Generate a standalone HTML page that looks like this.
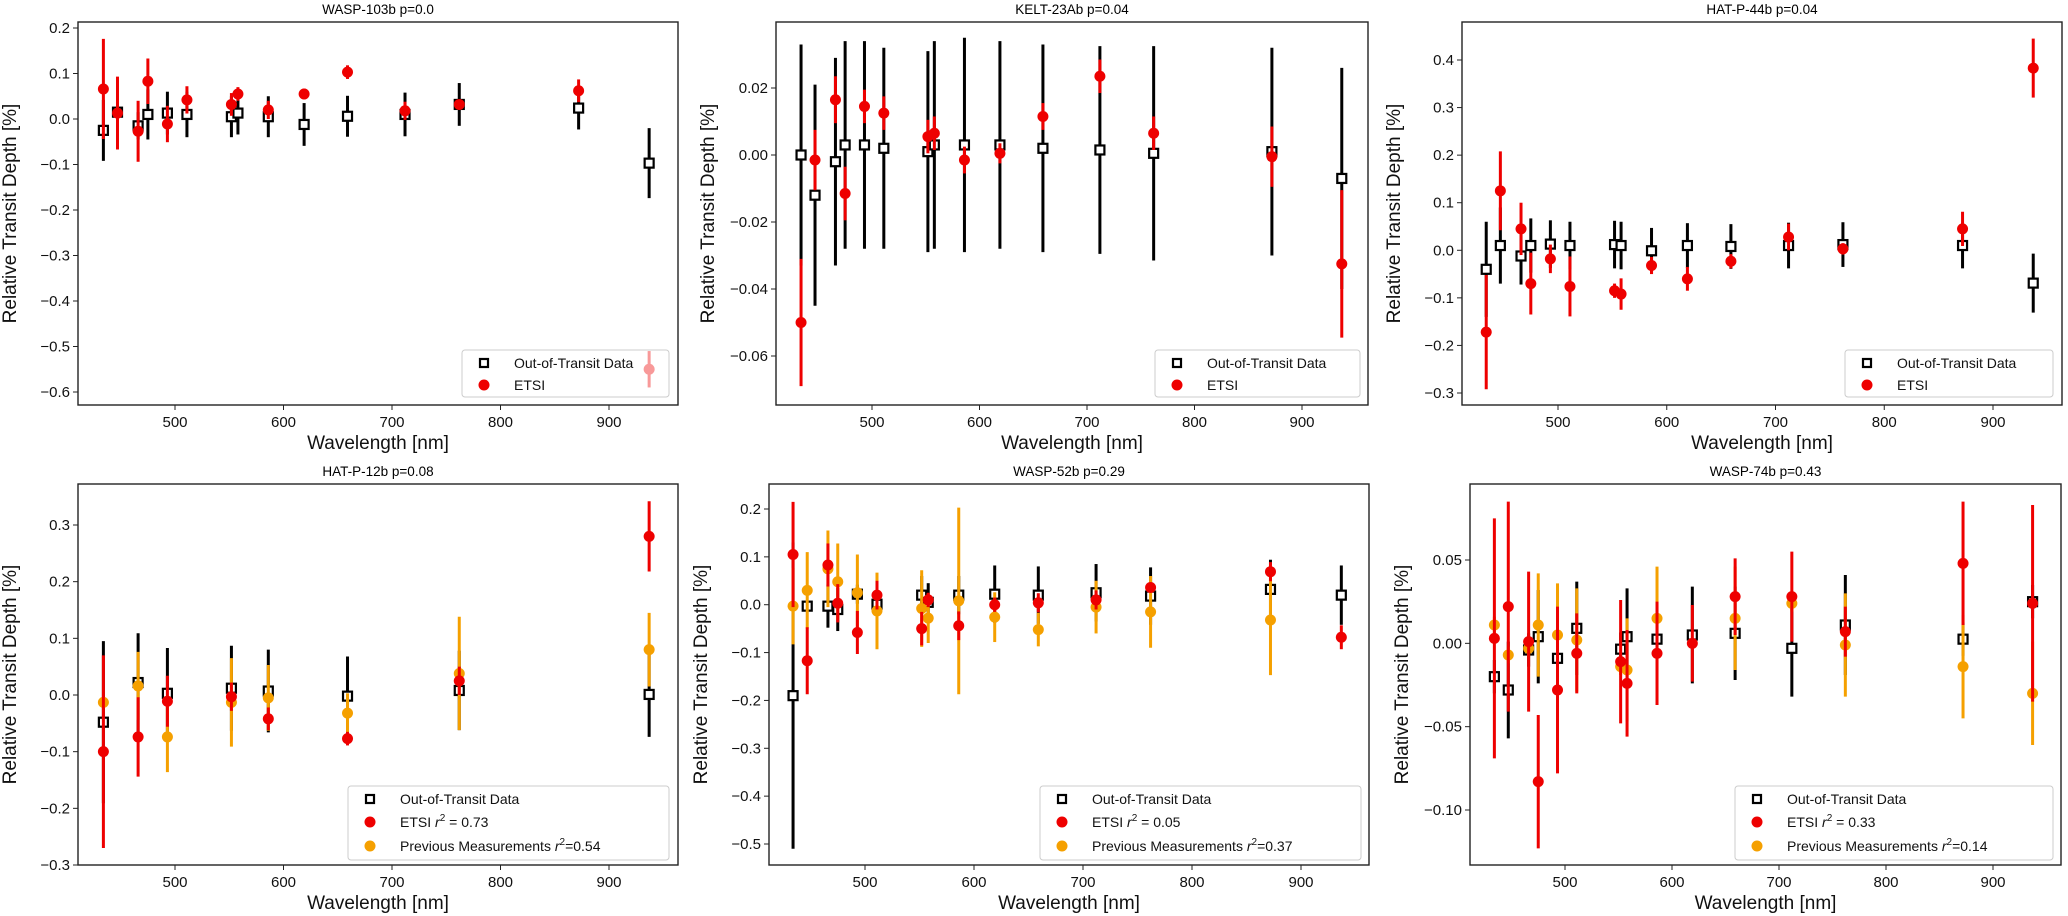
<!DOCTYPE html>
<html><head><meta charset="utf-8">
<style>
html,body{margin:0;padding:0;background:#fff;}
svg{display:block;font-family:"Liberation Sans",sans-serif;}
</style></head>
<body>
<svg id="fig" width="2068" height="916" viewBox="0 0 2068 916"></svg>
<script>
const wl = [434,447,466,475,493,511,552,558,586,619,659,712,762,872,937];
const wl4 = [434,466,493,552,586,659,762,937];
const xTicks = [500,600,700,800,900];

// Panel 1 WASP-103b
const p1Oot = [-0.025,0.015,-0.015,0.01,0.013,0.01,0.005,0.013,0.005,-0.012,0.006,0.01,0.032,0.024,-0.097];
const p1OotErr = [0.067,0.02,0.03,0.055,0.047,0.05,0.045,0.047,0.045,0.047,0.045,0.048,0.047,0.047,0.077];
const p1Etsi = [0.066,0.013,-0.027,0.083,-0.011,0.042,0.032,0.055,0.02,0.055,0.103,0.018,0.032,0.062,-0.55];
const p1EtsiErr = [0.11,0.08,0.067,0.05,0.04,0.03,0.025,0.015,0.02,0.012,0.015,0.02,0.01,0.025,0.04];
const p1Ticks = [0.2,0.1,0.0,-0.1,-0.2,-0.3,-0.4,-0.5,-0.6];
const p1TickLabels = ["0.2","0.1","0.0","\u22120.1","\u22120.2","\u22120.3","\u22120.4","\u22120.5","\u22120.6"];

// Panel 2 KELT-23Ab
const p2Oot = [0.0,-0.012,-0.002,0.003,0.003,0.002,0.001,0.003,0.003,0.003,0.002,0.0015,0.0005,0.001,-0.007];
const p2OotErr = [0.033,0.033,0.031,0.031,0.031,0.030,0.030,0.031,0.032,0.031,0.031,0.031,0.032,0.031,0.033];
const p2Etsi = [-0.050,-0.0015,0.0165,-0.0115,0.0145,0.0125,0.0055,0.0065,-0.0015,0.0005,0.0115,0.0235,0.0065,-0.0005,-0.0325];
const p2EtsiErr = [0.019,0.009,0.007,0.008,0.005,0.005,0.005,0.005,0.004,0.003,0.004,0.005,0.005,0.009,0.022];
const p2Ticks = [0.02,0.0,-0.02,-0.04,-0.06];
const p2TickLabels = ["0.02","0.00","\u22120.02","\u22120.04","\u22120.06"];

// Panel 3 HAT-P-44b
const p3Oot = [-0.04,0.01,-0.012,0.01,0.013,0.01,0.012,0.01,-0.001,0.01,0.008,0.01,0.012,0.01,-0.069];
const p3OotErr = [0.10,0.08,0.06,0.057,0.05,0.05,0.05,0.05,0.048,0.047,0.047,0.048,0.047,0.048,0.062];
const p3Etsi = [-0.172,0.125,0.045,-0.07,-0.018,-0.076,-0.085,-0.092,-0.032,-0.06,-0.023,0.028,0.003,0.045,0.383];
const p3EtsiErr = [0.12,0.083,0.055,0.065,0.03,0.063,0.015,0.033,0.018,0.025,0.015,0.028,0.012,0.036,0.062];
const p3Ticks = [0.4,0.3,0.2,0.1,0.0,-0.1,-0.2,-0.3];
const p3TickLabels = ["0.4","0.3","0.2","0.1","0.0","\u22120.1","\u22120.2","\u22120.3"];

// Panel 4 HAT-P-12b
const p4Oot = [-0.048,0.022,0.003,0.012,0.007,-0.002,0.008,0.001];
const p4OotErr = [0.143,0.087,0.08,0.075,0.073,0.07,0.07,0.075];
const p4Etsi = [-0.1,-0.074,-0.011,-0.003,-0.042,-0.077,0.025,0.28];
const p4EtsiErr = [0.17,0.07,0.045,0.025,0.02,0.012,0.025,0.062];
const p4Prev = [-0.013,0.016,-0.074,-0.013,-0.005,-0.032,0.038,0.08];
const p4PrevErr = [0.005,0.06,0.062,0.078,0.058,0.035,0.1,0.065];
const p4Ticks = [0.3,0.2,0.1,0.0,-0.1,-0.2,-0.3];
const p4TickLabels = ["0.3","0.2","0.1","0.0","\u22120.1","\u22120.2","\u22120.3"];

// Panel 5 WASP-52b
const p5Oot = [-0.19,-0.003,-0.003,-0.01,0.022,0.001,0.02,0.005,0.02,0.022,0.02,0.025,0.018,0.032,0.02];
const p5OotErr = [0.32,0.01,0.045,0.045,0.02,0.02,0.04,0.04,0.04,0.06,0.06,0.06,0.06,0.062,0.062];
const p5Etsi = [0.105,-0.117,0.083,0.003,-0.058,0.02,-0.05,0.01,-0.044,0.0,0.004,0.01,0.036,0.069,-0.068];
const p5EtsiErr = [0.11,0.07,0.045,0.04,0.045,0.03,0.035,0.015,0.03,0.015,0.02,0.02,0.01,0.02,0.025];
const p5Prev = [-0.003,0.03,0.075,0.048,0.025,-0.013,-0.008,-0.028,0.008,-0.026,-0.052,-0.005,-0.015,-0.032,null];
const p5PrevErr = [0.08,0.08,0.08,0.08,0.08,0.08,0.08,0.052,0.195,0.052,0.035,0.055,0.075,0.115,0];
const p5Ticks = [0.2,0.1,0.0,-0.1,-0.2,-0.3,-0.4,-0.5];
const p5TickLabels = ["0.2","0.1","0.0","\u22120.1","\u22120.2","\u22120.3","\u22120.4","\u22120.5"];

// Panel 6 WASP-74b
const p6Oot = [-0.02,-0.028,-0.004,0.004,-0.009,0.009,-0.0035,0.004,0.0025,0.005,0.006,-0.003,0.011,0.0025,0.025];
const p6OotErr = [0.01,0.029,0.01,0.028,0.01,0.028,0.01,0.029,0.01,0.029,0.028,0.029,0.03,0.01,0.01];
const p6Etsi = [0.003,0.022,0.001,-0.083,-0.028,-0.006,-0.011,-0.024,-0.006,0.0,0.028,0.028,0.007,0.048,0.024];
const p6EtsiErr = [0.072,0.063,0.042,0.04,0.05,0.024,0.037,0.032,0.031,0.023,0.023,0.027,0.015,0.037,0.059];
const p6Prev = [0.011,-0.007,-0.003,0.011,0.005,0.002,-0.014,-0.016,0.015,null,0.015,0.024,-0.001,-0.014,-0.03];
const p6PrevErr = [0.005,0.005,0.005,0.031,0.031,0.031,0.005,0.031,0.031,0,0.031,0.005,0.031,0.031,0.031];
const p6Ticks = [0.05,0.0,-0.05,-0.10];
const p6TickLabels = ["0.05","0.00","\u22120.05","\u22120.10"];

const NS = "http://www.w3.org/2000/svg";
const fig = document.getElementById('fig');
function mk(tag, attrs, parent){
  const e = document.createElementNS(NS, tag);
  for (const k in attrs) e.setAttribute(k, attrs[k]);
  (parent||fig).appendChild(e);
  return e;
}

const panels = [
 {name:"wasp-103b", title:"WASP-103b p=0.0", L:78,R:678,T:22,B:405, x500:175,x900:609, ya:0.2,yaP:28, yb:-0.6,ybP:392,
  x:wl, oot:p1Oot, ootE:p1OotErr, etsi:p1Etsi, etsiE:p1EtsiErr, ticks:p1Ticks, tl:p1TickLabels,
  leg:{x:462,y:350,w:207,h:47}},
 {name:"kelt-23ab", title:"KELT-23Ab p=0.04", L:776,R:1368,T:22,B:405, x500:872,x900:1302, ya:0.02,yaP:88, yb:-0.06,ybP:356,
  x:wl, oot:p2Oot, ootE:p2OotErr, etsi:p2Etsi, etsiE:p2EtsiErr, ticks:p2Ticks, tl:p2TickLabels,
  leg:{x:1155,y:350,w:205,h:47}},
 {name:"hat-p-44b", title:"HAT-P-44b p=0.04", L:1462,R:2062,T:22,B:405, x500:1558,x900:1993, ya:0.4,yaP:60, yb:-0.3,ybP:393,
  x:wl, oot:p3Oot, ootE:p3OotErr, etsi:p3Etsi, etsiE:p3EtsiErr, ticks:p3Ticks, tl:p3TickLabels,
  leg:{x:1845,y:350,w:208,h:47}},
 {name:"hat-p-12b", title:"HAT-P-12b p=0.08", L:78,R:678,T:484,B:865, x500:175,x900:609, ya:0.3,yaP:525, yb:-0.3,ybP:865,
  x:wl4, oot:p4Oot, ootE:p4OotErr, etsi:p4Etsi, etsiE:p4EtsiErr, prev:p4Prev, prevE:p4PrevErr, ticks:p4Ticks, tl:p4TickLabels,
  leg:{x:348,y:786,w:321,h:74}, r:["0.73","0.54"]},
 {name:"wasp-52b", title:"WASP-52b p=0.29", L:769,R:1369,T:484,B:865, x500:865,x900:1301, ya:0.2,yaP:509, yb:-0.5,ybP:844,
  x:wl, oot:p5Oot, ootE:p5OotErr, etsi:p5Etsi, etsiE:p5EtsiErr, prev:p5Prev, prevE:p5PrevErr, ticks:p5Ticks, tl:p5TickLabels,
  leg:{x:1040,y:786,w:321,h:74}, r:["0.05","0.37"]},
 {name:"wasp-74b", title:"WASP-74b p=0.43", L:1470,R:2061,T:484,B:865, x500:1565,x900:1993, ya:0.05,yaP:560, yb:-0.10,ybP:810,
  x:wl, oot:p6Oot, ootE:p6OotErr, etsi:p6Etsi, etsiE:p6EtsiErr, prev:p6Prev, prevE:p6PrevErr, ticks:p6Ticks, tl:p6TickLabels,
  leg:{x:1735,y:786,w:318,h:74}, r:["0.33","0.14"]}
];

panels.forEach(p => {
  const g = mk('g', {});
  
  
  const X = v => p.x500 + (v-500)*(p.x900-p.x500)/400;
  const Y = v => p.yaP + (v-p.ya)*(p.ybP-p.yaP)/(p.yb-p.ya);
  const t = mk('text', {x:(p.L+p.R)/2, y:p.T-8, 'text-anchor':'middle', 'font-size':13.5, fill:'#000'}, g);
  t.textContent = p.title;
  
  
  const fr = mk('rect', {x:p.L, y:p.T, width:p.R-p.L, height:p.B-p.T, fill:'none', stroke:'#222', 'stroke-width':1.4}, g);
  
  
  p.ticks.forEach((v,i) => {
    const yy = Y(v);
    mk('line', {x1:p.L-5, x2:p.L, y1:yy, y2:yy, stroke:'#222', 'stroke-width':1}, g);
    const tx = mk('text', {x:p.L-8, y:yy+5, 'text-anchor':'end', 'font-size':15, fill:'#111'}, g);
    tx.textContent = p.tl[i];
    
    
  });
  xTicks.forEach(v => {
    const xx = X(v);
    mk('line', {x1:xx, x2:xx, y1:p.B, y2:p.B+5, stroke:'#222', 'stroke-width':1}, g);
    const tx = mk('text', {x:xx, y:p.B+22, 'text-anchor':'middle', 'font-size':15, fill:'#111'}, g);
    tx.textContent = String(v);
    
    
  });
  const xl = mk('text', {x:(p.L+p.R)/2, y:p.B+44, 'text-anchor':'middle', 'font-size':19, fill:'#111'}, g);
  xl.textContent = 'Wavelength [nm]';
  
  
  const cy = (p.T+p.B)/2, cx = p.L - 62;
  const yl = mk('text', {x:cx, y:cy, 'text-anchor':'middle', 'font-size':19, fill:'#111', transform:`rotate(-90 ${cx} ${cy})`}, g);
  yl.textContent = 'Relative Transit Depth [%]';
  
  

  const clip = 'clip-' + p.name;
  const cp = mk('clipPath', {id:clip}, g);
  mk('rect', {x:p.L, y:p.T, width:p.R-p.L, height:p.B-p.T}, cp);
  const dg = mk('g', {'clip-path':`url(#${clip})`}, g);

  p.x.forEach((w,i) => {
    const xx = X(w);
    const b = mk('line', {x1:xx, x2:xx, y1:Y(p.oot[i]-p.ootE[i]), y2:Y(p.oot[i]+p.ootE[i]), stroke:'#000', 'stroke-width':3}, dg);
    
    
  });
  p.x.forEach((w,i) => {
    const s = mk('rect', {x:X(w)-4.5, y:Y(p.oot[i])-4.5, width:9, height:9, fill:'#fff', stroke:'#000', 'stroke-width':2.2}, dg);
    
    
  });
  if (p.prev) {
    p.x.forEach((w,i) => {
      if (p.prev[i] === null) return;
      const xx = X(w);
      const b = mk('line', {x1:xx, x2:xx, y1:Y(p.prev[i]-p.prevE[i]), y2:Y(p.prev[i]+p.prevE[i]), stroke:'#f5a000', 'stroke-width':3}, dg);
      
      
      const c = mk('circle', {cx:xx, cy:Y(p.prev[i]), r:5.5, fill:'#f5a000'}, dg);
      
      
    });
  }
  p.x.forEach((w,i) => {
    const xx = X(w);
    const b = mk('line', {x1:xx, x2:xx, y1:Y(p.etsi[i]-p.etsiE[i]), y2:Y(p.etsi[i]+p.etsiE[i]), stroke:'#ee0000', 'stroke-width':3}, dg);
    
    
    const c = mk('circle', {cx:xx, cy:Y(p.etsi[i]), r:5.5, fill:'#ee0000'}, dg);
    
    
  });

  const L = p.leg;
  const lg = mk('g', {}, g);
  
  
  mk('rect', {x:L.x, y:L.y, width:L.w, height:L.h, rx:3, fill:'#fff', 'fill-opacity':0.6, stroke:'#ccc', 'stroke-width':1}, lg);
  const mx = L.x + 22, tx0 = L.x + 52;
  const r1 = L.y + 13;
  mk('rect', {x:mx-4, y:r1-4, width:8, height:8, fill:'#fff', stroke:'#000', 'stroke-width':2.2}, lg);
  let te = mk('text', {x:tx0, y:r1+5, 'font-size':14, fill:'#111'}, lg);
  te.textContent = 'Out-of-Transit Data';
  
  
  const r2 = L.y + (p.prev ? 36 : 35);
  mk('circle', {cx:mx, cy:r2, r:5.5, fill:'#ee0000'}, lg);
  te = mk('text', {x:tx0, y:r2+5, 'font-size':14, fill:'#111'}, lg);
  
  
  if (p.prev) {
    te.innerHTML = 'ETSI <tspan font-style="italic">r</tspan><tspan dy="-6" font-size="10">2</tspan><tspan dy="6"> = ' + p.r[0] + '</tspan>';
    const r3 = L.y + 60;
    mk('circle', {cx:mx, cy:r3, r:5.5, fill:'#f5a000'}, lg);
    const t3 = mk('text', {x:tx0, y:r3+5, 'font-size':14, fill:'#111'}, lg);
    t3.innerHTML = 'Previous Measurements <tspan font-style="italic">r</tspan><tspan dy="-6" font-size="10">2</tspan><tspan dy="6">=' + p.r[1] + '</tspan>';
    
    
  } else {
    te.textContent = 'ETSI';
  }
});
</script>
</body></html>
